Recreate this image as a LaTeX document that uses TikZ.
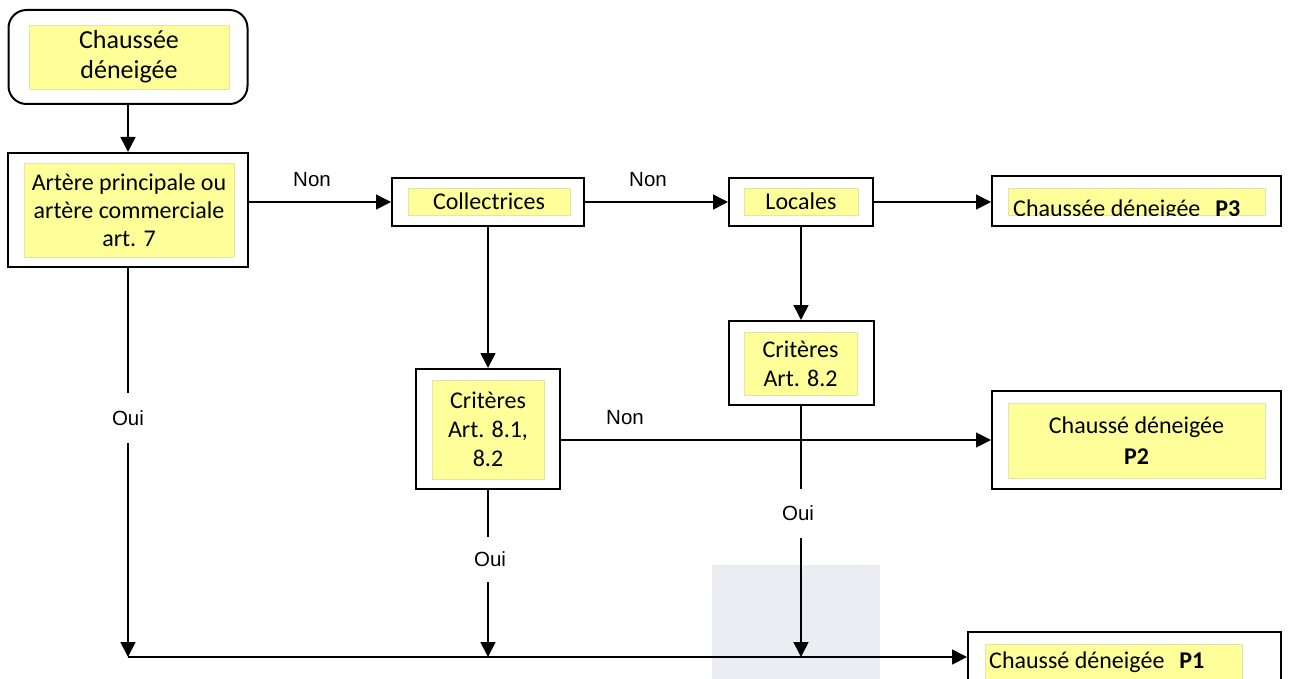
\documentclass[tikz,border=0pt]{standalone}
\usepackage{fontspec}
\setmainfont{Carlito}
\newfontfamily\lblfont{Liberation Sans}
\usetikzlibrary{arrows.meta}
\definecolor{hl}{RGB}{255,255,153}
\definecolor{hlb}{RGB}{228,228,170}
\definecolor{greybg}{RGB}{236,236,243}
\tikzset{
  box/.style={draw, line width=2pt, rectangle, inner sep=0pt},
  yel/.style={fill=hl, draw=hlb, line width=0.6pt, rectangle, inner sep=0pt, align=center},
  con/.style={line width=1.6pt},
  arr/.style={con, -{Triangle[length=15pt,width=15pt]}},
  lbl/.style={font=\lblfont\fontsize{20.5}{24}\selectfont, inner sep=0pt},
  txt/.style={font=\fontsize{24}{29}\selectfont}
}
\begin{document}
\begin{tikzpicture}[x=1pt,y=-1pt]
\useasboundingbox (0,0) rectangle (1290,679);
% faint background panel
\fill[greybg] (712,565) rectangle (880,700);

% boxes
\node[box, rounded corners=18pt, minimum width=239pt, minimum height=94pt] (start) at (128,57) {};
\node[yel, minimum width=200pt, minimum height=64pt, font=\fontsize{26}{30}\selectfont] (startY) at (129,57) {Chaussée\\déneigée};

\node[box, minimum width=240pt, minimum height=114pt] (art) at (128,210) {};
\node[yel, minimum width=210pt, minimum height=94pt, font=\fontsize{24}{28}\selectfont] (artY) at (129,210) {Artère principale ou\\artère commerciale\\art. 7};

\node[box, minimum width=192pt, minimum height=48pt] (col) at (488,202) {};
\node[yel, minimum width=162pt, minimum height=27pt, txt] (colY) at (489,201.5) {Collectrices};

\node[box, minimum width=144pt, minimum height=48pt] (loc) at (801,202) {};
\node[yel, minimum width=114pt, minimum height=27pt, txt] (locY) at (801,201.5) {Locales};

\node[box, minimum width=289pt, minimum height=50pt] (p3) at (1136.5,201) {};
\node[yel, minimum width=257pt, minimum height=27pt] (p3Y) at (1136.5,201.5) {};
\begin{scope}
  \clip (p3Y.north west) rectangle (p3Y.south east);
  \node[txt, anchor=base west, inner sep=0pt] (p3T) at (1013,216) {Chaussée déneigée\hspace{0.4em} \textbf{P3}};
\end{scope}

\node[box, minimum width=144pt, minimum height=120pt] (c81) at (488,429) {};
\node[yel, minimum width=112pt, minimum height=99pt, txt] (c81Y) at (488,429.5) {Critères\\Art. 8.1,\\8.2};

\node[box, minimum width=145pt, minimum height=84pt] (c82) at (801,363) {};
\node[yel, minimum width=113pt, minimum height=63pt, txt] (c82Y) at (800.5,363.5) {Critères\\Art. 8.2};

\node[box, minimum width=289pt, minimum height=98pt] (p2) at (1136.5,440) {};
\node[yel, minimum width=257pt, minimum height=75pt, font=\fontsize{24}{31}\selectfont, align=center] (p2Y) at (1136.5,440.5) {Chaussé déneigée\\\textbf{P2}};

\node[box, minimum width=313pt, minimum height=88pt] (p1) at (1124.5,676) {};
\node[yel, minimum width=257pt, minimum height=50pt] (p1Y) at (1113.5,669) {};
\begin{scope}
  \clip (p1Y.north west) rectangle (p1Y.south east);
  \node[txt, anchor=base west, inner sep=0pt] (p1T) at (989,668) {Chaussé déneigée\hspace{0.4em} \textbf{P1}};
\end{scope}

% labels
\node[lbl] (non1) at (312,180) {Non};
\node[lbl] (non2) at (648,180) {Non};
\node[lbl] (non3) at (625,418) {Non};
\node[lbl, minimum height=50pt] (ouiA) at (128,418) {Oui};
\node[lbl, minimum height=45pt] (ouiB) at (490,559.5) {Oui};
\node[lbl, minimum height=49pt] (ouiC) at (798,513.5) {Oui};

\coordinate (j1) at (128,657);
\coordinate (j2) at (488,657);
\coordinate (j3) at (801,657);

% connectors
\draw[arr] (start.south) -- (art.north);
\draw[arr] (art.east |- col.west) -- (col.west);
\draw[arr] (col.east) -- (loc.west);
\draw[arr] (loc.east) -- (p3.west |- loc.east);
\draw[arr] (col.south -| c81.north) -- (c81.north);
\draw[arr] (loc.south -| c82.north) -- (c82.north);
\draw[arr] (c81.east |- p2.west) -- (p2.west);

\draw[con] (art.south -| j1) -- (ouiA.north -| j1);
\draw[arr] (ouiA.south -| j1) -- (j1);
\draw[con] (c81.south -| j2) -- (ouiB.north -| j2);
\draw[arr] (ouiB.south -| j2) -- (j2);
\draw[con] (c82.south -| j3) -- (ouiC.north -| j3);
\draw[arr] (ouiC.south -| j3) -- (j3);
\draw[arr] (j1) -- (j1 -| p1.west);
\end{tikzpicture}
\end{document}
